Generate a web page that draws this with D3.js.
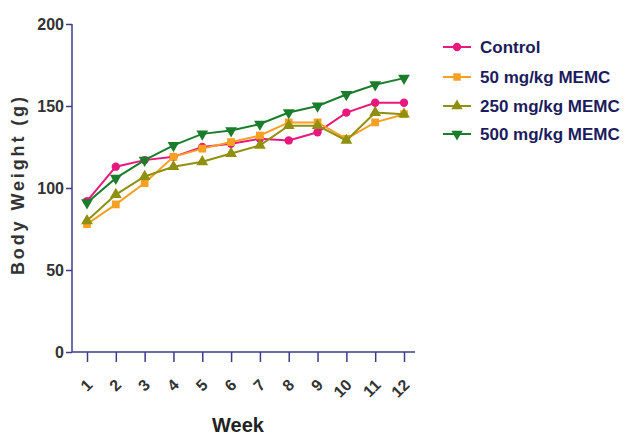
<!DOCTYPE html>
<html>
<head>
<meta charset="utf-8">
<script src="https://cdn.jsdelivr.net/npm/d3@7"></script>
<style>
  body { margin: 0; background: #fff; }
  text { font-family: "Liberation Sans Narrow", "Arial Narrow", "Liberation Sans", Arial, sans-serif; font-weight: bold; }
</style>
</head>
<body>
<svg id="chart" width="631" height="435"></svg>
<script>
const SVG = d3.select("#chart");
const WEEKS = [1, 2, 3, 4, 5, 6, 7, 8, 9, 10, 11, 12];
const Y_TICKS = [0, 50, 100, 150, 200];
const SERIES_NAMES = ["Control", "50 mg/kg MEMC", "250 mg/kg MEMC", "500 mg/kg MEMC"];
const CONTROL = [92, 113, 117, 119, 125, 127, 130, 129, 134, 146, 152, 152];
const MEMC_50 = [78, 90, 103, 119, 124, 128, 132, 140, 140, 130, 140, 145];
const MEMC_250 = [80, 96, 107, 113, 116, 121, 126, 138, 138, 129, 146, 145];
const MEMC_500 = [91, 106, 117, 126, 133, 135, 139, 146, 150, 157, 163, 167];

const COLORS = ["#e8197d", "#f7a021", "#8f8f10", "#1a7d2c"];
const SHAPES = [d3.symbolCircle, d3.symbolSquare, d3.symbolTriangle, d3.symbolTriangle];
const FLIP = [false, false, false, true];
const ALL = [CONTROL, MEMC_50, MEMC_250, MEMC_500];

const AXIS_COLOR = "#3c3c8a";

const X = d3.scaleLinear().domain([1, 12]).range([87, 404]);
const Y = d3.scaleLinear().domain([0, 200]).range([352, 24]);

// y axis
const yAxis = SVG.append("g")
  .attr("transform", "translate(72,0)")
  .call(d3.axisLeft(Y).tickValues(Y_TICKS).tickSize(6).tickPadding(2));
yAxis.select(".domain").attr("stroke", AXIS_COLOR).attr("stroke-width", 1.5).attr("d", "M0,24V352");
yAxis.selectAll(".tick line").attr("stroke", AXIS_COLOR).attr("stroke-width", 1.5);
yAxis.selectAll(".tick text").attr("fill", "#333").style("font-size", "16px");

// x axis
const xAxis = SVG.append("g")
  .attr("transform", "translate(0,352)")
  .call(d3.axisBottom(X).tickValues(WEEKS).tickSize(10).tickFormat(d3.format("d")));
xAxis.select(".domain").attr("stroke", AXIS_COLOR).attr("stroke-width", 1.5).attr("d", "M72,0H415");
xAxis.selectAll(".tick line").attr("stroke", AXIS_COLOR).attr("stroke-width", 1.5);
xAxis.selectAll(".tick text")
  .attr("fill", "#333")
  .style("font-size", "16px")
  .attr("text-anchor", "end")
  .attr("dy", null)
  .attr("transform", "translate(6,34) rotate(-45)")
  .attr("x", 0).attr("y", 0);

// titles
SVG.append("text")
  .attr("transform", "translate(24,186) rotate(-90)")
  .attr("text-anchor", "middle")
  .attr("fill", "#333")
  .style("font-family", "'Liberation Sans', Arial, sans-serif")
  .style("font-size", "18px")
  .attr("textLength", 178)
  .attr("lengthAdjust", "spacing")
  .text("Body Weight (g)");

SVG.append("text")
  .attr("x", 238).attr("y", 432)
  .attr("text-anchor", "middle")
  .attr("fill", "#222")
  .style("font-size", "20px")
  .text("Week");

// series
const LINE = d3.line().x((d, i) => X(WEEKS[i])).y(d => Y(d));

ALL.forEach((vals, s) => {
  const g = SVG.append("g");
  g.append("path")
    .datum(vals)
    .attr("fill", "none")
    .attr("stroke", COLORS[s])
    .attr("stroke-width", 2)
    .attr("d", LINE);
  g.selectAll("path.pt")
    .data(vals)
    .enter()
    .append("path")
    .attr("class", "pt")
    .attr("d", d3.symbol().type(SHAPES[s]).size(s === 0 ? 55 : 60))
    .attr("fill", COLORS[s])
    .attr("transform", (d, i) => `translate(${X(WEEKS[i])},${Y(d)})${FLIP[s] ? " rotate(180)" : ""}`);
});

// legend
const LEG_Y = [47, 77, 106, 134];
SERIES_NAMES.forEach((name, s) => {
  const g = SVG.append("g").attr("transform", `translate(443,${LEG_Y[s]})`);
  g.append("line").attr("x1", 0).attr("x2", 28).attr("stroke", COLORS[s]).attr("stroke-width", 2);
  g.append("path")
    .attr("d", d3.symbol().type(SHAPES[s]).size(55))
    .attr("fill", COLORS[s])
    .attr("transform", `translate(14,0)${FLIP[s] ? " rotate(180)" : ""}`);
  g.append("text")
    .attr("x", 37).attr("y", 6)
    .attr("fill", "#1c1c5c")
    .style("font-size", "17px")
    .text(name);
});
</script>
</body>
</html>
